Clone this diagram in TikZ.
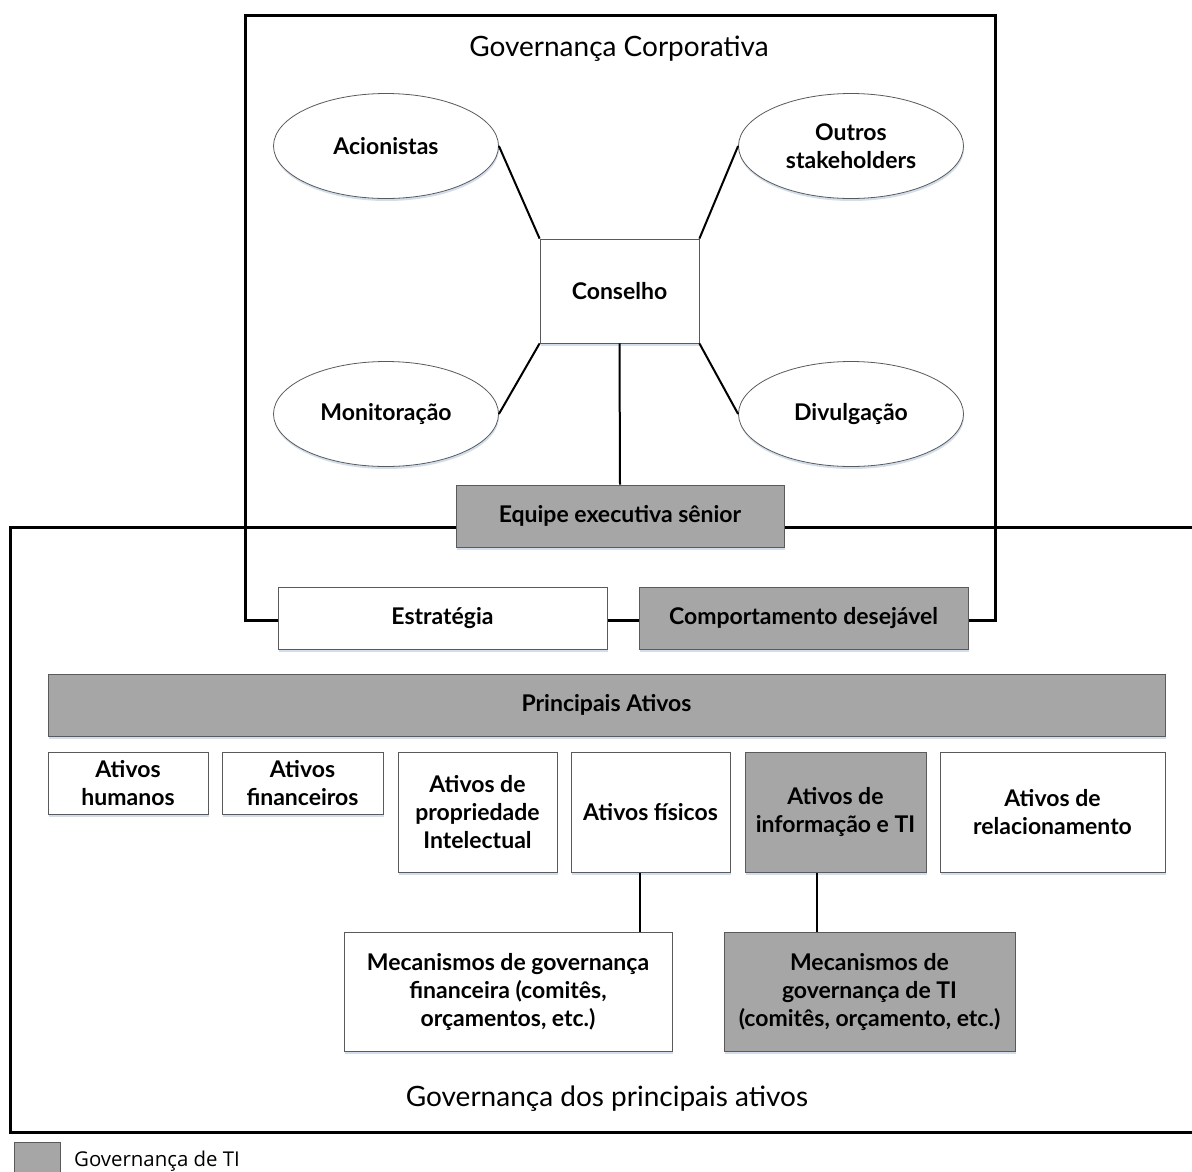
\documentclass[tikz,border=0pt]{standalone}
\usepackage{fontspec}
\setmainfont{Lato}
\newfontfamily\legendfont{Open Sans}
\usetikzlibrary{shapes.geometric,shadows}
\definecolor{itgray}{HTML}{A6A6A6}
\definecolor{edgegray}{HTML}{5A5A5A}
\definecolor{shade}{HTML}{9DB6D6}
\begin{document}
\begin{tikzpicture}[x=1pt,y=-1pt,
  frame/.style={line width=3pt, line join=miter},
  link/.style={line width=2pt},
  soft/.style={drop shadow={shadow xshift=0.6pt, shadow yshift=-2.5pt, fill=shade, opacity=0.45}},
  label/.style={font=\fontsize{23}{28}\selectfont\bfseries, align=center},
  box/.style={label, rectangle, draw=edgegray, line width=0.8pt, fill=white, inner sep=0pt, soft},
  itbox/.style={box, fill=itgray},
  oval/.style={label, ellipse, draw=edgegray, line width=0.8pt, fill=white, inner sep=0pt,
    minimum width=225pt, minimum height=105pt, soft},
  size/.style 2 args={minimum width=#1, minimum height=#2},
  title/.style={font=\fontsize{28}{32}\selectfont}
]
\useasboundingbox (0,0) rectangle (1192,1171);

% outer frames: corporate governance and key-asset governance
\draw[frame] (245,15) rectangle (995,620);
\draw[frame] (1192,527) -- (10,527) -- (10,1132) -- (1192,1132);

\node[title] (tgc) at (619,49) {Governança Corporativa};
\node[title] (tga) at (607,1099) {Governança dos principais ativos};

% board and its surroundings
\node[oval] (acion) at (386,146) {Acionistas};
\node[oval] (outros) at (851,146) {Outros\\stakeholders};
\node[oval] (monit) at (386,414) {Monitoração};
\node[oval] (divul) at (851,414) {Divulgação};
\node[box, size={159pt}{104pt}] (cons) at (619.5,291) {Conselho};
\node[itbox, size={328pt}{62pt}] (equipe) at (620,516) {Equipe executiva sênior};

\draw[link] (acion.east) -- (cons.north west);
\draw[link] (outros.west) -- (cons.north east);
\draw[link] (monit.east) -- (cons.south west);
\draw[link] (divul.west) -- (cons.south east);
\draw[link] (cons.south) -- (equipe.north);

% strategy and desired behaviour
\node[box, size={329pt}{62pt}] (estr) at (442.5,618) {Estratégia};
\node[itbox, size={329pt}{62pt}] (comp) at (803.5,618) {Comportamento desejável};

% key assets
\node[itbox, size={1117pt}{62pt}] (princ) at (606.5,705) {Principais Ativos};
\node[box, size={160pt}{62pt}, anchor=north] (hum) at (128,752) {Ativos\\humanos};
\node[box, size={161pt}{62pt}, anchor=north] (fin) at (302.5,752) {Ativos\\financeiros};
\node[box, size={159pt}{120pt}, anchor=north] (prop) at (477.5,752) {Ativos de\\propriedade\\Intelectual};
\node[box, size={159pt}{120pt}, anchor=north] (fis) at (650.5,752) {Ativos físicos};
\node[itbox, size={181pt}{120pt}, anchor=north] (info) at (835.5,752) {Ativos de\\informação e TI};
\node[box, size={225pt}{120pt}, anchor=north] (rel) at (1052.5,752) {Ativos de\\relacionamento};

% governance mechanisms
\node[box, size={328pt}{119pt}, anchor=north] (mecfin) at (508,932) {Mecanismos de governança\\financeira (comitês,\\orçamentos, etc.)};
\node[itbox, size={291pt}{119pt}, anchor=north] (mecti) at (869.5,932) {Mecanismos de\\governança de TI\\(comitês, orçamento, etc.)};

\draw[link] ([xshift=-10.5pt]fis.south) -- ([xshift=-10.5pt]fis.south |- mecfin.north);
\draw[link] ([xshift=-18.5pt]info.south) -- ([xshift=-18.5pt]info.south |- mecti.north);

% legend
\node[draw=edgegray, line width=0.8pt, fill=itgray, inner sep=0pt, size={46pt}{36pt}, anchor=north west] (legbox) at (14,1142) {};
\node[anchor=west, inner sep=0pt, font=\legendfont\fontsize{20.4}{24}\selectfont] (legtxt) at (74,1161) {Governança de TI};
\end{tikzpicture}
\end{document}
